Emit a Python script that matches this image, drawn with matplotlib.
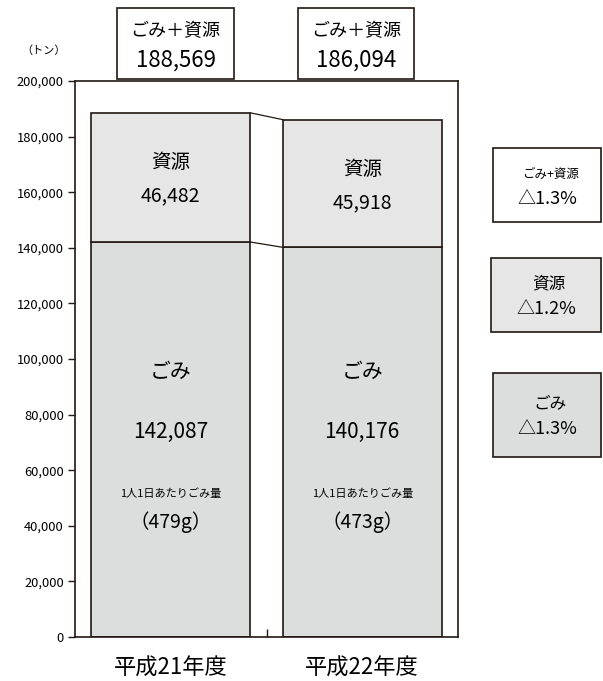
import matplotlib.pyplot as plt
from matplotlib.patches import Rectangle

plt.rcParams['font.family'] = ['Noto Sans CJK JP', 'DejaVu Sans']

years = ['平成21年度', '平成22年度']
gomi = [142087, 140176]
shigen = [46482, 45918]
per_person = ['（479g）', '（473g）']
changes = [('ごみ+資源', '△1.3%'), ('資源', '△1.2%'), ('ごみ', '△1.3%')]
yticks = list(range(0, 200001, 20000))

edge = '#231815'
c_gomi = '#dcdddd'
c_shigen = '#e6e6e6'
W, H = 603, 681

fig = plt.figure(figsize=(W / 100, H / 100), dpi=100)
ax = fig.add_axes([75 / W, 44 / H, 383 / W, 556 / H])

x = [0, 1]
w = 0.83
ax.bar(x, gomi, width=w, color=c_gomi, edgecolor=edge, linewidth=1.2)
ax.bar(x, shigen, width=w, bottom=gomi, color=c_shigen, edgecolor=edge, linewidth=1.2)

# connecting lines between the bars
totals = [g + s for g, s in zip(gomi, shigen)]
ax.plot([w / 2, 1 - w / 2], totals, color=edge, lw=0.9)
ax.plot([w / 2, 1 - w / 2], gomi, color=edge, lw=0.9)

ax.set_xlim(-0.5, 1.5)
ax.set_ylim(0, 200000)
ax.set_yticks(yticks)
ax.set_yticklabels([f'{v:,}' for v in yticks], fontsize=9.3)
ax.tick_params(axis='y', direction='out', length=5, width=1, color=edge, pad=3)
ax.set_xticks([0.5])
ax.set_xticklabels([''])
ax.tick_params(axis='x', direction='in', length=6, width=1, color=edge)
for sp in ax.spines.values():
    sp.set_color(edge)
    sp.set_linewidth(1.2)

for i in range(2):
    ax.text(x[i], totals[i] - 18000, '資源', ha='center', va='center', fontsize=14)
    ax.text(x[i], totals[i] - 29900, f'{shigen[i]:,}', ha='center', va='center', fontsize=14)
    ax.text(x[i], 95300, 'ごみ', ha='center', va='center', fontsize=15)
    ax.text(x[i], 73700, f'{gomi[i]:,}', ha='center', va='center', fontsize=15)
    ax.text(x[i], 51400, '1人1日あたりごみ量', ha='center', va='center', fontsize=8)
    ax.text(x[i], 41400, per_person[i], ha='center', va='center', fontsize=14)
    ax.text(x[i], -11150, years[i], ha='center', va='center', fontsize=16)

ax.text(-0.55, 210800, '（トン）', ha='right', va='center', fontsize=8)


def box(x0, y0, x1, y1, fill):
    fig.add_artist(Rectangle((x0 / W, 1 - y1 / H), (x1 - x0) / W, (y1 - y0) / H,
                             transform=fig.transFigure, facecolor=fill,
                             edgecolor=edge, linewidth=1.2))


def label(xp, yp, s, size):
    fig.text(xp / W, 1 - yp / H, s, ha='center', va='center', fontsize=size)


# total boxes above the bars
for (x0, x1), t in zip([(117, 234), (298, 414)], totals):
    box(x0, 8, x1, 79, 'white')
    label((x0 + x1) / 2, 31, 'ごみ＋資源', 13)
    label((x0 + x1) / 2, 60, f'{t:,}', 16)

# change boxes on the right
right = [((493, 148, 601, 222), 'white', 9),
         ((491, 258, 601, 332), c_shigen, 12),
         ((493, 373, 601, 457), c_gomi, 12)]
for (b, fill, size), (name, pct) in zip(right, changes):
    box(*b, fill)
    cx = (b[0] + b[2]) / 2
    cy = (b[1] + b[3]) / 2
    label(cx + 3, cy - 11, name, size)
    label(cx, cy + 14, pct, 13)

fig.savefig('out.png', dpi=100)
